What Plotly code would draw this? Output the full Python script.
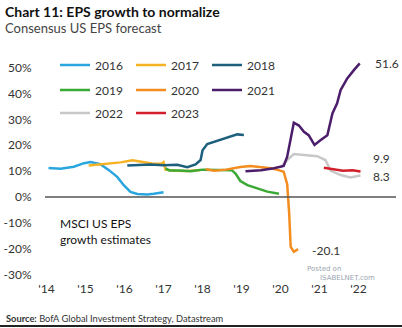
import plotly.graph_objects as go

# Consensus EPS growth forecasts (%) for each calendar year, by forecast date
years_2016 = [2014.05, 2014.36, 2014.70, 2014.96, 2015.13, 2015.38, 2015.60, 2015.81, 2015.98, 2016.15, 2016.33, 2016.58, 2016.75, 2017.0]
eps_2016 = [11.2, 10.9, 11.7, 13.1, 13.5, 12.7, 10.4, 7.8, 4.6, 2.0, 1.2, 1.0, 1.3, 1.9]

years_2017 = [2015.08, 2015.35, 2015.60, 2015.90, 2016.20, 2016.45, 2016.70, 2016.95, 2017.0, 2017.05, 2017.30, 2017.60, 2017.95]
eps_2017 = [12.2, 12.6, 13.0, 13.4, 14.2, 13.6, 13.0, 12.9, 13.5, 10.6, 10.2, 10.1, 10.5]

years_2018 = [2016.07, 2016.40, 2016.67, 2017.0, 2017.35, 2017.61, 2017.82, 2017.95, 2018.0, 2018.12, 2018.38, 2018.63, 2018.89, 2019.06]
eps_2018 = [12.2, 12.4, 12.6, 12.3, 12.5, 11.5, 12.6, 14.3, 18.1, 20.5, 21.8, 23.2, 24.2, 24.0]

years_2019 = [2017.05, 2017.15, 2017.40, 2017.70, 2018.0, 2018.40, 2018.75, 2018.85, 2018.97, 2019.15, 2019.40, 2019.66, 2019.96]
eps_2019 = [11.1, 10.3, 10.3, 10.0, 10.6, 10.4, 10.4, 9.0, 6.2, 4.6, 3.4, 2.1, 1.3]

years_2020 = [2018.08, 2018.30, 2018.60, 2018.97, 2019.23, 2019.50, 2019.75, 2019.95, 2020.08, 2020.17, 2020.22, 2020.26, 2020.34, 2020.45]
eps_2020 = [10.8, 10.2, 10.6, 11.6, 12.0, 11.6, 11.1, 10.4, 9.8, 5.0, -6.0, -19.2, -21.1, -20.1]

years_2021 = [2019.10, 2019.50, 2019.83, 2020.08, 2020.17, 2020.26, 2020.34, 2020.47, 2020.60, 2020.72, 2020.87, 2021.03, 2021.20, 2021.33, 2021.45, 2021.54, 2021.71, 2021.88, 2022.03]
eps_2021 = [10.0, 10.4, 11.1, 12.0, 15.6, 23.3, 28.7, 27.6, 25.2, 23.9, 20.1, 22.0, 23.9, 32.3, 36.2, 41.3, 45.8, 49.0, 51.6]

years_2022 = [2020.0, 2020.17, 2020.34, 2020.60, 2020.94, 2021.15, 2021.28, 2021.54, 2021.79, 2022.05]
eps_2022 = [11.5, 14.3, 16.6, 16.2, 15.8, 14.3, 10.2, 8.5, 7.6, 8.3]

years_2023 = [2021.11, 2021.35, 2021.60, 2021.85, 2022.05]
eps_2023 = [11.3, 10.7, 10.2, 10.4, 9.9]

series_names = ["2016", "2017", "2018", "2019", "2020", "2021", "2022", "2023"]
series_years = [years_2016, years_2017, years_2018, years_2019, years_2020, years_2021, years_2022, years_2023]
series_values = [eps_2016, eps_2017, eps_2018, eps_2019, eps_2020, eps_2021, eps_2022, eps_2023]
series_colors = ["#2aa6df", "#f5b324", "#1d5f7c", "#3aa935", "#f48d1f", "#4c1d6b", "#c8c8c8", "#d31f2b"]
# legend rows: three entries per row
series_legend = ["legend", "legend", "legend", "legend2", "legend2", "legend2", "legend3", "legend3"]

x_tick_vals = [2014, 2015, 2016, 2017, 2018, 2019, 2020, 2021, 2022]
x_tick_text = ["'14", "'15", "'16", "'17", "'18", "'19", "'20", "'21", "'22"]
y_tick_vals = [-30, -20, -10, 0, 10, 20, 30, 40, 50]
y_tick_text = ["-30%", "-20%", "-10%", "0%", "10%", "20%", "30%", "40%", "50%"]

FONT = "Lato"
TEXT = "#333333"

W, H = 402, 328
ML, MR, MT, MB = 45, 6, 52, 48
PW, PH = W - ML - MR, H - MT - MB


def px(x):
    return (x - ML) / PW


def py(y):
    return (H - MB - y) / PH


fig = go.Figure()

# draw order keeps the grey 2022 line beneath the purple 2021 line
draw_order = [0, 1, 2, 3, 4, 6, 5, 7]
for i in draw_order:
    fig.add_trace(go.Scatter(
        x=series_years[i], y=series_values[i], name=series_names[i],
        mode="lines", line=dict(color=series_colors[i], width=2.5),
        legend=series_legend[i], legendrank=i,
        hoverinfo="skip",
    ))

# end-of-line value labels
end_labels = [(5, 13, 0), (7, 10, 13), (6, 10, -1), (4, 12, -1)]
for idx, dx, dy in end_labels:
    fig.add_annotation(
        x=series_years[idx][-1], y=series_values[idx][-1],
        text=f"{series_values[idx][-1]:.1f}", showarrow=False,
        xanchor="left", yanchor="middle", xshift=dx, yshift=dy,
        font=dict(family=FONT, size=12, color=TEXT),
    )

# zero line
fig.add_shape(type="line", xref="paper", yref="y", x0=0, x1=1, y0=0, y1=0,
              line=dict(color="#555555", width=1.5))

legend_common = dict(
    orientation="h", xanchor="left", yanchor="middle",
    entrywidth=31, entrywidthmode="pixels",
    bgcolor="rgba(0,0,0,0)", borderwidth=0, itemclick=False,
    font=dict(family=FONT, size=12, color=TEXT), tracegroupgap=0,
)

fig.update_layout(
    width=W, height=H,
    margin=dict(l=ML, r=MR, t=MT, b=MB, autoexpand=False),
    paper_bgcolor="white", plot_bgcolor="white",
    font=dict(family=FONT, color=TEXT),
    showlegend=True,
    legend=dict(x=px(55), y=py(65), **legend_common),
    legend2=dict(x=px(55), y=py(90), **legend_common),
    legend3=dict(x=px(55), y=py(113), **legend_common),
    xaxis=dict(
        range=[2013.96, 2022.96], tickvals=x_tick_vals, ticktext=x_tick_text,
        showgrid=False, zeroline=False, showline=False,
        ticks="", tickfont=dict(family=FONT, size=12, color=TEXT),
    ),
    yaxis=dict(
        range=[-32, 56], tickvals=y_tick_vals, ticktext=y_tick_text,
        showgrid=False, zeroline=False, showline=False,
        ticks="outside", ticklen=10, tickcolor="rgba(0,0,0,0)",
        tickfont=dict(family=FONT, size=12, color=TEXT),
    ),
)


def note(x, y, text, size, color, family=FONT):
    fig.add_annotation(xref="paper", yref="paper", x=px(x), y=py(y), text=text,
                       showarrow=False, xanchor="left", yanchor="middle", align="left",
                       font=dict(family=family, size=size, color=color))


# titles, note and source
note(3, 11, "<b>Chart 11: EPS growth to normalize</b>", 14, "#111111")
note(3, 28, "Consensus US EPS forecast", 13, "#444444")
note(58, 231, "MSCI US EPS<br>growth estimates", 12, "#111111")
note(305, 269, "Posted on", 7, "#9aa4b0", "DejaVu Sans")
note(318, 278, "ISABELNET.com", 7, "#9aa4b0", "DejaVu Sans")
note(4, 318, "<b>Source:</b> BofA Global Investment Strategy, Datastream", 9.3, "#333333")

fig.add_shape(type="line", xref="paper", yref="paper",
              x0=px(0), x1=px(W), y0=py(326), y1=py(326),
              line=dict(color="#222222", width=2))

fig.write_html("out.html")
